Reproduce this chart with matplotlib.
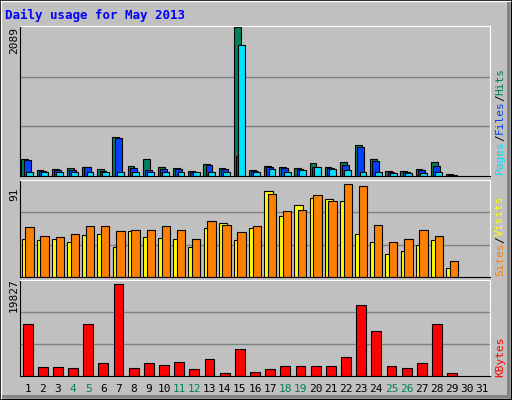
import matplotlib
matplotlib.use("Agg")
import matplotlib.pyplot as plt
import numpy as np
from matplotlib.patches import Rectangle

plt.rcParams["font.family"] = "DejaVu Sans Mono"

DAYS = list(range(1, 32))
WEEKENDS = {4, 5, 11, 12, 18, 19, 25, 26}

HITS = [237, 81, 95, 109, 128, 95, 541, 142, 237, 128, 109, 66, 171, 109, 2089,
        81, 142, 128, 109, 180, 128, 199, 437, 237, 66, 66, 95, 199, 28]
FILES = [223, 71, 81, 81, 128, 71, 527, 109, 81, 95, 95, 62, 157, 95, 285,
         71, 128, 109, 95, 128, 109, 157, 413, 214, 62, 62, 81, 142, 19]
PAGES = [52, 52, 52, 52, 52, 52, 52, 52, 52, 52, 52, 52, 52, 52, 1834,
         52, 95, 62, 81, 128, 95, 81, 62, 52, 45, 45, 42, 52, 9]
VISITS = [37, 36, 37, 34, 41, 42, 29, 45, 39, 38, 37, 29, 48, 53, 36,
          48, 84, 60, 70, 77, 76, 74, 42, 34, 22, 25, 31, 36, 9]
SITES = [49, 40, 39, 42, 50, 50, 45, 46, 46, 50, 46, 37, 55, 51, 44,
         50, 81, 64, 65, 80, 74, 91, 89, 51, 34, 37, 46, 40, 16]
KBYTES = [11110, 1960, 1960, 1740, 11110, 2830, 19827, 1740, 2830, 2400, 3050, 1520, 3700, 650, 5880,
          870, 1520, 2180, 2180, 2180, 2180, 4140, 15250, 9580, 2180, 1740, 2830, 11110, 650]

BG = "#c0c0c0"
W, H = 512, 400
fig = plt.figure(figsize=(W / 100, H / 100), dpi=100, facecolor=BG)

# bevelled frame
frame = fig.add_axes([0, 0, 1, 1])
frame.set_xlim(0, W)
frame.set_ylim(H, 0)
frame.axis("off")
frame.add_patch(Rectangle((0, 0), W - 1, H - 1, fill=False, ec="black", lw=1))
frame.plot([1, W - 2], [1, 1], color="white", lw=1)
frame.plot([1, 1], [1, H - 2], color="white", lw=1)
frame.plot([3, W - 4], [H - 4, H - 4], color="#808080", lw=2)
frame.plot([W - 4, W - 4], [3, H - 4], color="#808080", lw=2)
frame.text(5, 15, "Daily usage for May 2013", color="#0000ff", fontsize=9,
           fontweight="bold", va="center")


def panel(top, bottom):
    ax = fig.add_axes([20 / W, 1 - bottom / H, 470 / W, (bottom - top) / H])
    ax.set_facecolor(BG)
    ax.set_xlim(0.5, 31.5)
    ax.set_xticks([])
    ax.set_yticks([])
    for s in ("top", "right"):
        ax.spines[s].set_color("white")
    for s in ("left", "bottom"):
        ax.spines[s].set_color("black")
    return ax


x = np.arange(1, len(HITS) + 1)
bar = dict(edgecolor="black", linewidth=0.8)

ax1 = panel(26, 176)
ax1.set_ylim(0, 2089 * 1.0068)
for f in (1 / 3, 2 / 3):
    ax1.axhline(2089 * f, color="#808080", lw=1, zorder=0)
ax1.bar(x - 0.18, HITS, width=0.45, color="#00805c", **bar)
ax1.bar(x - 0.03, FILES, width=0.45, color="#0040ff", **bar)
ax1.bar(x + 0.12, PAGES, width=0.45, color="#00e0ff", **bar)

ax2 = panel(180, 277)
ax2.set_ylim(0, 91 * 1.04)
for f in (1 / 3, 2 / 3):
    ax2.axhline(91 * 1.04 * f, color="#808080", lw=1, zorder=0)
ax2.bar(x - 0.12, VISITS, width=0.55, color="#ffff00", **bar)
ax2.bar(x + 0.12, SITES, width=0.55, color="#ff8000", **bar)

ax3 = panel(280, 376)
ax3.set_ylim(0, 19827 * 1.04)
for f in (1 / 3, 2 / 3):
    ax3.axhline(19827 * 1.04 * f, color="#808080", lw=1, zorder=0)
ax3.bar(x, KBYTES, width=0.65, color="#ff0000", **bar)

for d in DAYS:
    xp = 20 + (d - 0.5) / 31 * 470
    frame.text(xp, 389, str(d), ha="center", va="center", fontsize=8,
               color="#00805c" if d in WEEKENDS else "black")

frame.text(14, 40, "2089", rotation=90, ha="center", va="center", fontsize=8)
frame.text(14, 194, "91", rotation=90, ha="center", va="center", fontsize=8)
frame.text(14, 295, "19827", rotation=90, ha="center", va="center", fontsize=8)


def vlabel(parts, y_bottom):
    y = y_bottom
    for txt, col in parts:
        t = frame.text(500, y, txt, rotation=90, ha="center", va="bottom",
                       fontsize=8, color=col)
        y -= len(txt) * 6.6


vlabel([("Pages", "#00e0ff"), ("/", "black"), ("Files", "#0040ff"),
        ("/", "black"), ("Hits", "#00805c")], 174)
vlabel([("Sites", "#ff8000"), ("/", "black"), ("Visits", "#ffff00")], 276)
vlabel([("KBytes", "#ff0000")], 377)

fig.savefig("out.png", dpi=100, facecolor=BG)
